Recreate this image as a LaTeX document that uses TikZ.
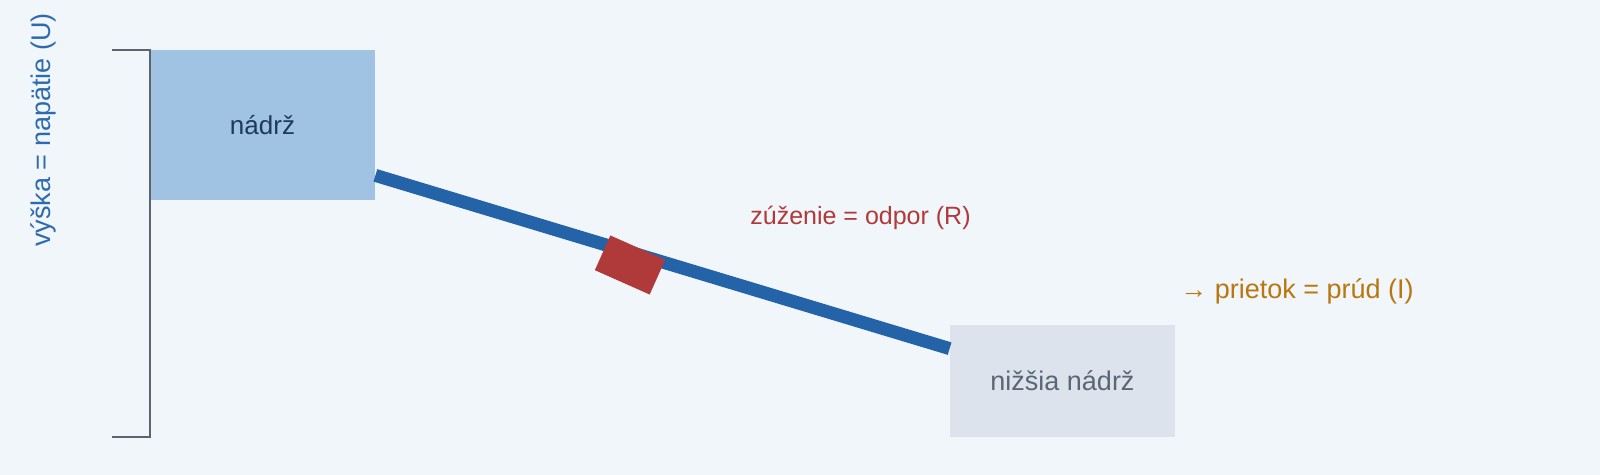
\documentclass[tikz,border=0pt]{standalone}
\usepackage{fontspec}
\setmainfont{Liberation Sans}
\definecolor{bgcol}{HTML}{F1F6FA}
\definecolor{tankfill}{HTML}{A0C3E4}
\definecolor{tanktext}{HTML}{1E3A5C}
\definecolor{pipecol}{HTML}{2563A8}
\definecolor{narrowcol}{HTML}{B03A3A}
\definecolor{lowfill}{HTML}{DCE3EC}
\definecolor{lowtext}{HTML}{5B6676}
\definecolor{bracketcol}{HTML}{5C6470}
\definecolor{heightcol}{HTML}{2E6BAE}
\definecolor{flowcol}{HTML}{B8770F}

\begin{document}
\begin{tikzpicture}
    [
        x=0.5pt, y=-0.5pt,
        tank_node/.style={rectangle, fill=tankfill, minimum width=112.5pt, minimum height=75pt, inner sep=0pt, text=tanktext, font=\fontsize{13}{15}\selectfont},
        low_node/.style={rectangle, fill=lowfill, minimum width=112.5pt, minimum height=56pt, inner sep=0pt, text=lowtext, font=\fontsize{13.5}{16}\selectfont},
        narrow_node/.style={rectangle, fill=narrowcol, minimum width=30pt, minimum height=19pt, inner sep=0pt, rotate=-24},
        label_node/.style={inner sep=0pt, anchor=base west},
    ]
        \fill[bgcol] (0,0) rectangle (1600,475) ;
        \useasboundingbox (0,0) rectangle (1600,475) ;
        \node[tank_node] (tank) at (262.5,125) {nádrž} ;
        \node[low_node] (low) at (1062.5,381) {nižšia nádrž} ;
        \coordinate (pipe_in) at ([yshift=12.5pt]tank.south east) ;
        \coordinate (pipe_out) at ([yshift=-12pt]low.north west) ;
        \draw[line width=6.5pt, color=pipecol] (pipe_in) -- (pipe_out) ;
        \node[narrow_node] (narrow) at (630,265) {} ;
        \draw[line width=1pt, color=bracketcol] ([xshift=-19pt]tank.north west) -- (tank.north west) -- (tank.north west |- low.south) -- ++(-38,0) ;
        \node[label_node, rotate=90, text=heightcol, font=\fontsize{13.5}{16}\selectfont] (height) at (50,247) {výška = napätie (U)} ;
        \node[label_node, text=narrowcol, font=\fontsize{12.5}{15}\selectfont] (resist) at (750,225) {zúženie = odpor (R)} ;
        \node[label_node, text=flowcol, font=\fontsize{13.5}{16}\selectfont] (flow) at (1180,299) {→ prietok = prúd (I)} ;
    \end{tikzpicture}
\end{document}
